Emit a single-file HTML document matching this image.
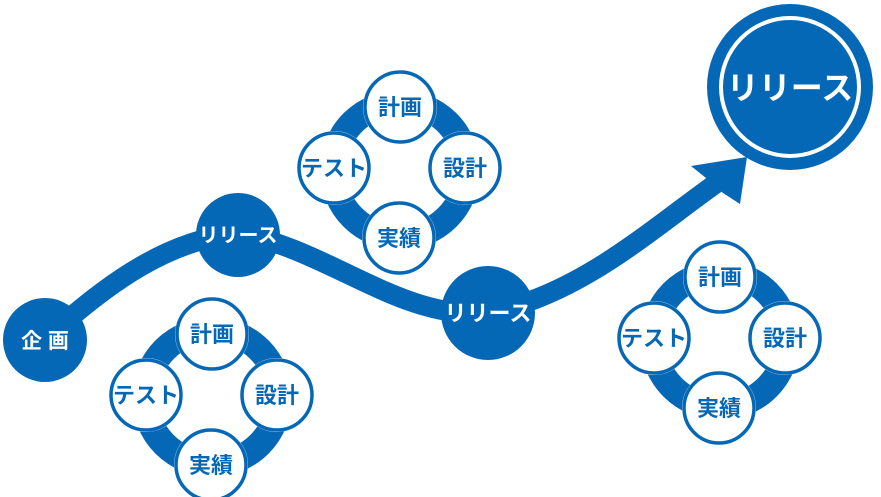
<!DOCTYPE html>
<html><head><meta charset="utf-8"><style>
html,body{margin:0;padding:0;background:#fff;}
svg{display:block;}
text{font-family:"Liberation Sans","Noto Sans CJK JP",sans-serif;font-weight:bold;}
</style></head><body>
<svg width="881" height="497" viewBox="0 0 881 497">
<defs>
<g id="cyc">
  <circle cx="0" cy="0" r="67" fill="none" stroke="#0568b7" stroke-width="26"/>
  <g fill="#fff" stroke="#fff" stroke-width="4">
  <circle cx="0" cy="-63" r="35"/><circle cx="65" cy="-2" r="35"/><circle cx="-66" cy="-2" r="35"/><circle cx="-1" cy="68" r="35"/>
  </g>
  <circle cx="0" cy="-63" r="35" fill="#fff" stroke="#0568b7" stroke-width="3.5"/>
  <circle cx="65" cy="-2" r="35" fill="#fff" stroke="#0568b7" stroke-width="3.5"/>
  <circle cx="-66" cy="-2" r="35" fill="#fff" stroke="#0568b7" stroke-width="3.5"/>
  <circle cx="-1" cy="68" r="35" fill="#fff" stroke="#0568b7" stroke-width="3.5"/>
  <text x="0" y="-55" font-size="22" fill="#0568b7" text-anchor="middle">計画</text>
  <text x="65" y="6" font-size="22" fill="#0568b7" text-anchor="middle">設計</text>
  <text x="-66" y="6" font-size="22" fill="#0568b7" text-anchor="middle">テスト</text>
  <text x="-1" y="76" font-size="22" fill="#0568b7" text-anchor="middle">実績</text>
</g>
</defs>
<path d="M 45 340 C 110 280, 170 240, 238 233 C 330 250, 400 320, 488 313 C 580 295, 650 230, 718 182" fill="none" stroke="#0568b7" stroke-width="20"/>
<polygon points="747,157 691,166 706,178 723,193 740,204" fill="#0568b7"/>
<circle cx="45" cy="340" r="42" fill="#0568b7"/>
<text x="45" y="348" font-size="21" fill="#fff" text-anchor="middle">企 画</text>
<circle cx="238" cy="235" r="42" fill="#0568b7"/>
<text x="238" y="242" font-size="20" fill="#fff" text-anchor="middle">リリース</text>
<circle cx="488" cy="313" r="47" fill="#0568b7"/>
<text x="488" y="321" font-size="22" fill="#fff" text-anchor="middle">リリース</text>
<circle cx="790" cy="87" r="83" fill="#0568b7"/>
<circle cx="790" cy="87" r="69" fill="none" stroke="#fff" stroke-width="4"/>
<text x="790" y="99" font-size="32" fill="#fff" text-anchor="middle">リリース</text>
<use href="#cyc" transform="translate(212,397)"/>
<use href="#cyc" transform="translate(400,170)"/>
<use href="#cyc" transform="translate(720,340)"/>
</svg>
</body></html>
